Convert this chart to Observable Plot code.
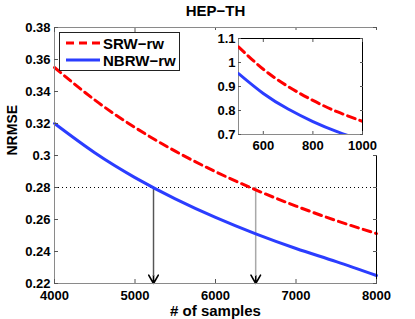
<!DOCTYPE html>
<html>
<head>
<meta charset="utf-8">
<script src="https://cdn.jsdelivr.net/npm/d3@7"></script>
<script src="https://cdn.jsdelivr.net/npm/@observablehq/plot@0.6"></script>
<style>
  html, body { margin: 0; padding: 0; background: white; }
  #wrap { position: relative; width: 415px; height: 319px; font-family: "Liberation Sans", Arial, sans-serif; }
  #inset { position: absolute; left: 205px; top: 30px; }
  #legend { position: absolute; left: 59px; top: 32px; width: 119px; height: 37px; border: 1px solid #222; background: white; }
  .row { position: absolute; left: 0; height: 18px; display: flex; align-items: center; font-weight: bold; font-size: 15px; color: black; }
  .row svg { margin-left: 6px; margin-right: 3px; }
</style>
</head>
<body>
<div id="wrap"></div>
<script>
// ---- data ----
const title = "HEP\u2212TH";
const xLabel = "# of samples";
const yLabel = "NRMSE";
const seriesNames = ["SRW\u2212rw", "NBRW\u2212rw"];
const seriesColors = ["#ff0000", "#2b3dff"];

const samplesMain = [4000, 4500, 5000, 5500, 6000, 6500, 7000, 7500, 8000];
const srwMain  = [0.355, 0.3347, 0.3175, 0.3027, 0.2899, 0.2785, 0.2684, 0.2593, 0.2512];
const nbrwMain = [0.320, 0.3017, 0.2862, 0.2729, 0.2613, 0.2510, 0.2419, 0.2337, 0.2250];

const samplesInset = [500, 600, 700, 800, 900, 1000];
const srwInset  = [1.065, 0.972, 0.900, 0.842, 0.794, 0.755];
const nbrwInset = [0.954, 0.871, 0.806, 0.754, 0.711, 0.675];

const mainXTicks = [4000, 5000, 6000, 7000, 8000];
const mainYTicks = [0.22, 0.24, 0.26, 0.28, 0.3, 0.32, 0.34, 0.36, 0.38];
const insetXTicks = [600, 800, 1000];
const insetYTicks = [0.7, 0.8, 0.9, 1, 1.1];

const threshold = 0.28;
const crossings = [5230, 6500];
const arrowColors = ["#555555", "#a0a0a0"];

// ---- build tables ----
const mainData = samplesMain.flatMap((x, i) => [
  {x, y: srwMain[i], s: seriesNames[0]},
  {x, y: nbrwMain[i], s: seriesNames[1]}
]);
const insetData = samplesInset.flatMap((x, i) => [
  {x, y: srwInset[i], s: seriesNames[0]},
  {x, y: nbrwInset[i], s: seriesNames[1]}
]);
const arrows = crossings.map((x, i) => ({x, c: arrowColors[i]}));

const font = {fontFamily: "'Liberation Sans', Arial, sans-serif", fontWeight: "bold", fontSize: "13px", background: "white", overflow: "visible"};

const main = Plot.plot({
  width: 415, height: 319,
  marginLeft: 54, marginRight: 39, marginTop: 27, marginBottom: 36,
  style: font,
  x: {domain: [mainXTicks[0], mainXTicks[mainXTicks.length - 1]]},
  y: {domain: [mainYTicks[0], mainYTicks[mainYTicks.length - 1]]},
  marks: [
    Plot.ruleY([threshold], {stroke: "black", strokeDasharray: "1,3", strokeWidth: 1}),
    Plot.arrow(arrows, {x1: "x", x2: "x", y1: threshold, y2: mainYTicks[0], stroke: "black", strokeWidth: 1.6, headLength: 9, headAngle: 60}),
    Plot.ruleX(arrows, {x: "x", y1: threshold, y2: mainYTicks[0], stroke: "white", strokeWidth: 2.6, insetBottom: 8}),
    ...arrows.map(a => Plot.ruleX([a], {x: "x", y1: threshold, y2: mainYTicks[0], stroke: a.c, strokeWidth: 1.3, insetBottom: 7})),
    Plot.line(mainData.filter(d => d.s === seriesNames[0]), {x: "x", y: "y", stroke: seriesColors[0], strokeWidth: 3, strokeDasharray: "8,5", curve: "natural"}),
    Plot.line(mainData.filter(d => d.s === seriesNames[1]), {x: "x", y: "y", stroke: seriesColors[1], strokeWidth: 3, curve: "natural"}),
    Plot.frame({stroke: "#8a8a8a"}),
    Plot.ruleX([mainXTicks[mainXTicks.length - 1]], {stroke: "black"}),
    Plot.axisX({ticks: mainXTicks, anchor: "bottom", tickSize: -4, tickPadding: 11, tickFormat: d => String(d), label: null, stroke: "#555"}),
    Plot.axisX({ticks: mainXTicks, anchor: "top", tickSize: -4, tickFormat: () => "", label: null, stroke: "#555"}),
    Plot.axisY({ticks: mainYTicks, anchor: "left", tickSize: -4, tickPadding: 8, tickFormat: d => String(d), label: null, stroke: "#555"}),
    Plot.axisY({ticks: mainYTicks, anchor: "right", tickSize: -4, tickFormat: () => "", label: null, stroke: "#555"}),
    Plot.text([title], {frameAnchor: "top", dy: -16, lineAnchor: "middle", fontSize: 15, fontWeight: "bold"}),
    Plot.text([xLabel], {frameAnchor: "bottom", dy: 28, lineAnchor: "middle", fontSize: 15, fontWeight: "bold"}),
    Plot.text([yLabel], {frameAnchor: "left", dx: -42, lineAnchor: "middle", rotate: -90, fontSize: 14, fontWeight: "bold"})
  ]
});

const inset = Plot.plot({
  width: 175, height: 125,
  marginLeft: 33, marginRight: 18, marginTop: 8, marginBottom: 21,
  style: font,
  x: {domain: [samplesInset[0], samplesInset[samplesInset.length - 1]]},
  y: {domain: [insetYTicks[0], insetYTicks[insetYTicks.length - 1]]},
  marks: [
    Plot.frame({fill: "white", stroke: "#8a8a8a"}),
    Plot.line(insetData.filter(d => d.s === seriesNames[0]), {x: "x", y: "y", stroke: seriesColors[0], strokeWidth: 3, strokeDasharray: "8,5", curve: "natural", clip: true}),
    Plot.line(insetData.filter(d => d.s === seriesNames[1]), {x: "x", y: "y", stroke: seriesColors[1], strokeWidth: 3, curve: "natural", clip: true}),
    Plot.ruleX([samplesInset[samplesInset.length - 1]], {stroke: "black"}),
    Plot.ruleY([insetYTicks[insetYTicks.length - 1]], {stroke: "black"}),
    Plot.axisX({ticks: insetXTicks, anchor: "bottom", tickSize: -3, tickPadding: 9, tickFormat: d => String(d), label: null, stroke: "#555"}),
    Plot.axisX({ticks: insetXTicks, anchor: "top", tickSize: -3, tickFormat: () => "", label: null, stroke: "#555"}),
    Plot.axisY({ticks: insetYTicks, anchor: "left", tickSize: -3, tickPadding: 6, tickFormat: d => String(d), label: null, stroke: "#555"}),
    Plot.axisY({ticks: insetYTicks, anchor: "right", tickSize: -3, tickFormat: () => "", label: null, stroke: "#555"})
  ]
});
inset.id = "inset";

const wrap = document.getElementById("wrap");
wrap.appendChild(main);
wrap.appendChild(inset);

// legend
const legend = document.createElement("div");
legend.id = "legend";
seriesNames.forEach((name, i) => {
  const row = document.createElement("div");
  row.className = "row";
  row.style.top = (1 + i * 17) + "px";
  const dash = i === 0 ? 'stroke-dasharray="8,5"' : "";
  row.innerHTML = `<svg width="34" height="8"><line x1="0" x2="34" y1="4" y2="4" stroke="${seriesColors[i]}" stroke-width="3" ${dash}/></svg><span>${name}</span>`;
  legend.appendChild(row);
});
wrap.appendChild(legend);
</script>
</body>
</html>
